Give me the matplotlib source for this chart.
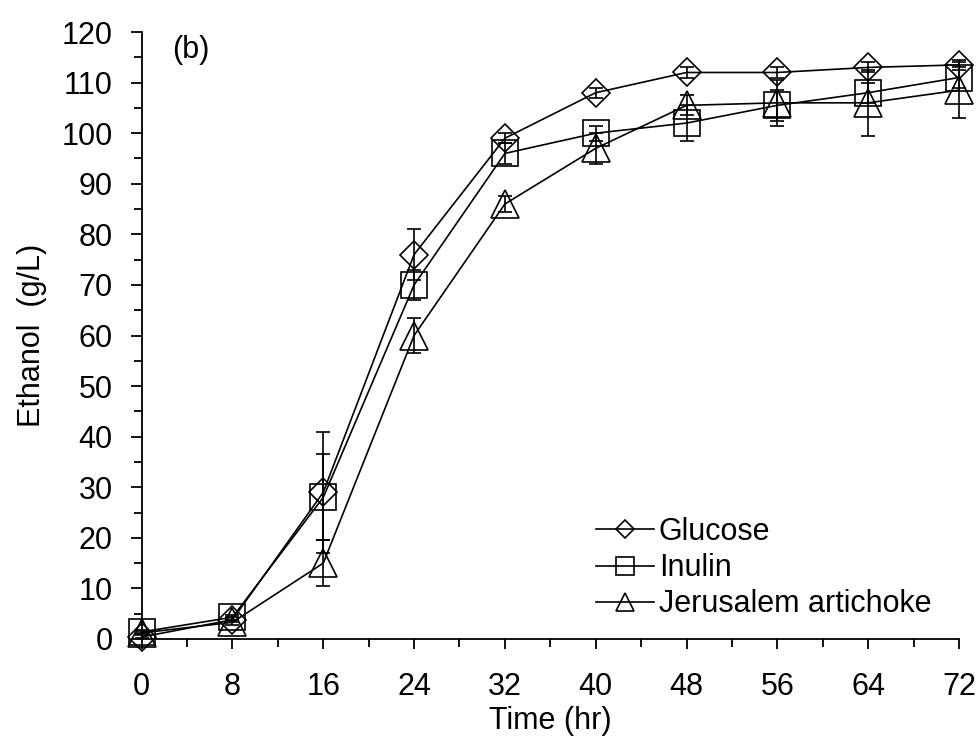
import numpy as np
import matplotlib.pyplot as plt
from matplotlib.ticker import MultipleLocator

# =========================
# DATA
# =========================
time_hr = [0, 8, 16, 24, 32, 40, 48, 56, 64, 72]

glucose = [0.4, 3.8, 29.0, 76.0, 99.0, 108.0, 112.0, 112.0, 113.0, 113.5]
glucose_err = [0.3, 0.5, 12.0, 5.0, 1.0, 1.0, 1.0, 1.0, 1.0, 1.0]

inulin = [1.4, 4.3, 28.0, 70.0, 96.0, 100.0, 102.0, 105.5, 108.0, 111.0]
inulin_err = [0.3, 0.5, 8.5, 3.0, 2.0, 1.5, 3.5, 3.0, 2.0, 2.0]

artichoke = [1.2, 3.3, 15.0, 60.0, 86.0, 97.0, 105.5, 106.0, 106.0, 108.5]
artichoke_err = [0.3, 0.5, 4.5, 3.5, 1.5, 3.0, 2.0, 4.5, 6.5, 5.5]

labels = ["Glucose", "Inulin", "Jerusalem artichoke"]

# =========================
# PLOT
# =========================
plt.rcParams['font.family'] = ['Liberation Sans', 'DejaVu Sans']
FS = 22

fig = plt.figure(figsize=(9.77, 7.36), dpi=100)
ax = fig.add_axes([0.145, 0.1318, 0.8365, 0.8247])

series = [
    (glucose, glucose_err, "D", 14),
    (inulin, inulin_err, "s", 19),
    (artichoke, artichoke_err, "^", 20),
]

handles = []
for (vals, err, mk, ms), lab in zip(series, labels):
    cont = ax.errorbar(time_hr, vals, yerr=err, color="black", lw=1.2,
                       marker=mk, markersize=ms, markerfacecolor="none",
                       markeredgecolor="black", markeredgewidth=1.2,
                       ecolor="black", elinewidth=1.2, capsize=5, capthick=1.2,
                       label=lab, clip_on=False)
    handles.append(cont[0])

ax.set_xlim(0, 72)
ax.set_ylim(0, 120)
ax.xaxis.set_major_locator(MultipleLocator(8))
ax.xaxis.set_minor_locator(MultipleLocator(4))
ax.yaxis.set_major_locator(MultipleLocator(10))
ax.yaxis.set_minor_locator(MultipleLocator(5))

for s in ["top", "right"]:
    ax.spines[s].set_visible(False)
for s in ["left", "bottom"]:
    ax.spines[s].set_linewidth(1.3)

ax.tick_params(axis="x", which="major", direction="out", length=7, width=1.3,
               labelsize=FS, pad=17)
ax.tick_params(axis="x", which="minor", direction="out", length=5.5, width=1.3)
ax.tick_params(axis="y", which="major", direction="out", length=8, width=1.3,
               labelsize=FS, pad=13)
ax.tick_params(axis="y", which="minor", direction="out", length=6, width=1.3)

ax.set_xlabel("Time (hr)", fontsize=FS, labelpad=3)
ax.set_ylabel("Ethanol  (g/L)", fontsize=FS, labelpad=10)

ax.text(4.3, 116.4, "(b)", fontsize=FS, ha="center", va="center")

leg = ax.legend(handles, labels, loc="lower right",
                bbox_to_anchor=(1.0, -0.013), frameon=False,
                fontsize=FS, markerscale=0.65, handlelength=1.9,
                handletextpad=0.15, labelspacing=0.2)

plt.savefig("out.png", dpi=100)
